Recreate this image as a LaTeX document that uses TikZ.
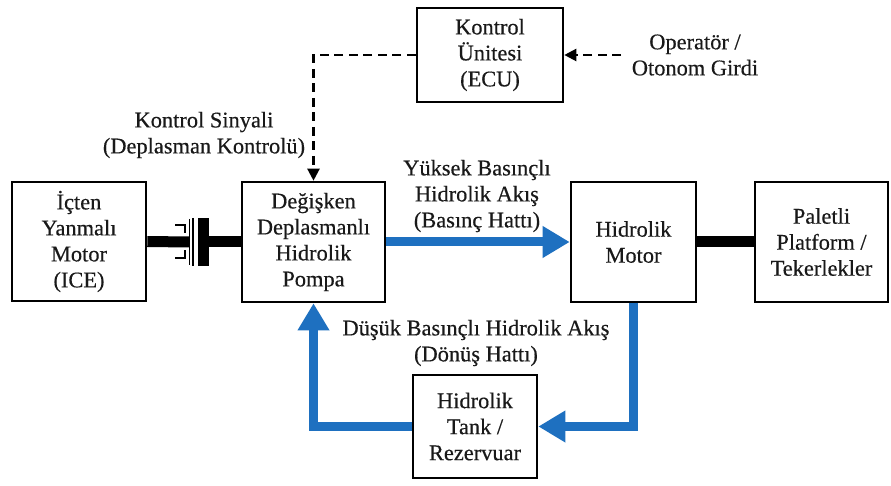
\documentclass[tikz,border=0pt]{standalone}
\usepackage{fontspec}
\setmainfont[FakeBold=0.4]{Liberation Serif}
\usetikzlibrary{arrows.meta}
\definecolor{flowblue}{RGB}{30,112,192}
\definecolor{inkblack}{RGB}{25,25,25}
\begin{document}
\begin{tikzpicture}[x=1pt,y=-1pt,
  every node/.style={font=\fontsize{22.4}{26}\selectfont, align=center, inner sep=0pt, text=inkblack},
  unit/.style={draw, line width=2.6pt, minimum width=#1},
  flow/.style={draw=flowblue, line width=9pt, line join=miter,
    -{Triangle[length=27pt,width=30pt]}},
  signal/.style={line width=2.3pt, dash pattern=on 9pt off 5.5pt,
    -{Triangle[length=12pt,width=12pt]}},
  shaft/.style={line width=11pt},
  thin/.style={line width=1.6pt}]
\useasboundingbox (0,0) rectangle (891,486);
\fill[white] (0,0) rectangle (891,486);

% main components
\node[unit=134pt, minimum height=119pt] (ice) at (79,241.5) {İçten\\Yanmalı\\Motor\\(ICE)};
\node[unit=143pt, minimum height=120pt] (pump) at (313.5,242) {Değişken\\Deplasmanlı\\Hidrolik\\Pompa};
\node[unit=125pt, minimum height=120pt] (motor) at (633.5,242) {Hidrolik\\Motor};
\node[unit=133pt, minimum height=120pt] (track) at (821.5,242) {Paletli\\Platform /\\Tekerlekler};
\node[unit=146pt, minimum height=94pt] (ecu) at (490,55) {Kontrol\\Ünitesi\\(ECU)};
\node[unit=124pt, minimum height=103pt] (tank) at (475,426.5) {Hidrolik\\Tank /\\Rezervuar};

% labels
\node (siglbl) at (204,135) {Kontrol Sinyali\\(Deplasman Kontrolü)};
\node (hplbl) at (477,196) {Yüksek Basınçlı\\Hidrolik Akış\\(Basınç Hattı)};
\node (lplbl) at (476,343) {Düşük Basınçlı Hidrolik Akış\\(Dönüş Hattı)};
\node (oplbl) at (695,55) {Operatör /\\Otonom Girdi};
\coordinate (opin) at (621,55);

% mechanical shafts and coupling
\coordinate (cplL) at (189,242);
\coordinate (cplR) at (209,242);
\draw[shaft] (ice.east) -- (cplL);
\draw[thin] (189.5,219) -- (189.5,265);
\draw[thin] (193,218) -- (193,266);
\draw[thin] (175,225) -- (185,225) -- (185,233);
\draw[thin] (175,258) -- (185,258) -- (185,250);
\fill (198,218) rectangle (209,266);
\draw[shaft] (cplR) -- (pump.west);
\draw[shaft] (motor.east) -- (track.west);

% hydraulic lines
\draw[flow] (pump.east) -- (motor.west);
\draw[flow] (motor.south) |- (tank.east);
\draw[flow] (tank.west) -| (pump.south);

% control signals
\draw[signal] (ecu.west) -| (pump.north);
\draw[signal] (opin) -- (ecu.east);
\end{tikzpicture}
\end{document}
